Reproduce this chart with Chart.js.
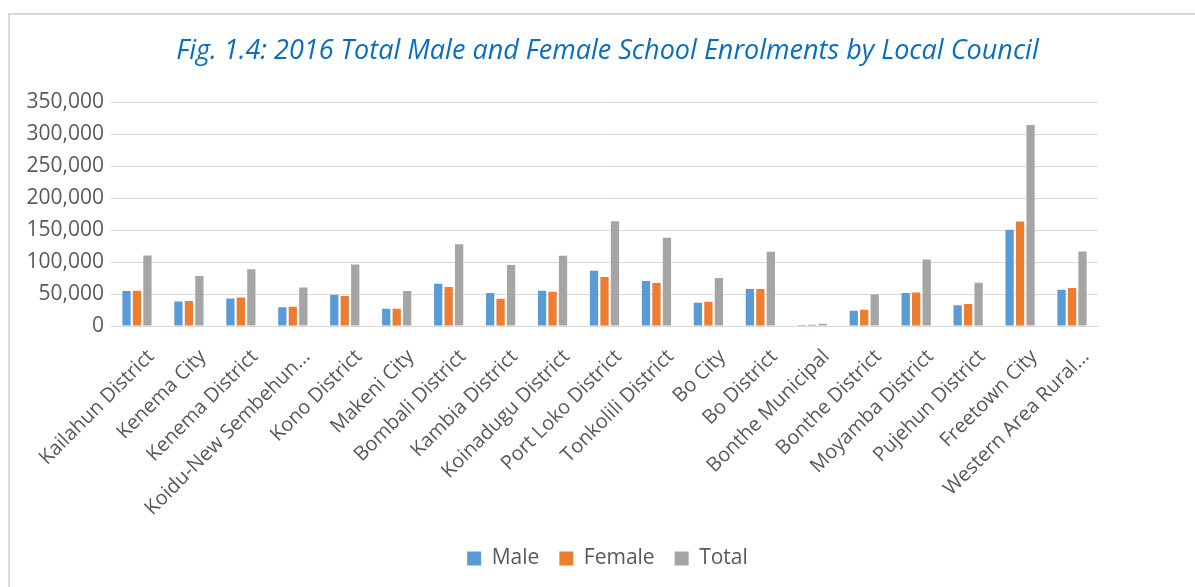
<!DOCTYPE html>
<html>
<head>
<meta charset="utf-8">
<script src="https://cdn.jsdelivr.net/npm/chart.js@4.4.0/dist/chart.umd.min.js"></script>
<style>
  html, body { margin: 0; padding: 0; background: #fff; }
  #frame { position: absolute; left: 8px; top: 13px; width: 1300px; height: 700px;
           border-left: 2px solid #d9d9d9; border-top: 2px solid #d9d9d9; }
  #wrap { position: absolute; left: 0; top: 0; width: 1195px; height: 587px; }
</style>
</head>
<body>
<div id="frame"></div>
<div id="wrap"><canvas id="myChart" width="1195" height="587"></canvas></div>
<script>
// Conselhos locais (eixo x)
const councils = [
    'Kailahun District', 'Kenema City', 'Kenema District', 'Koidu-New Sembehun...',
    'Kono District', 'Makeni City', 'Bombali District', 'Kambia District',
    'Koinadugu District', 'Port Loko District', 'Tonkolili District', 'Bo City',
    'Bo District', 'Bonthe Municipal', 'Bonthe District', 'Moyamba District',
    'Pujehun District', 'Freetown City', 'Western Area Rural...'
];

// Matrículas
const male   = [54700, 38500, 43200, 29200, 49000, 27100, 66100, 51600, 55200, 86500,
                70300, 36500, 57800, 1600, 24000, 51600, 32300, 150500, 56800];
const female = [55300, 39000, 44800, 30200, 46900, 27100, 60900, 42700, 53600, 76600,
                67200, 38000, 57800, 2100, 25500, 52600, 34400, 163500, 59400];
const total  = [110400, 78100, 89000, 60400, 96400, 54700, 128100, 95300, 109900, 164100,
                138000, 75000, 116100, 3700, 49500, 104200, 67700, 314600, 116700];

const yTicks = [0, 50000, 100000, 150000, 200000, 250000, 300000, 350000];

const fontFam = "'Open Sans', sans-serif";
const grey = '#595959';

const ctx = document.getElementById('myChart').getContext('2d');
const myChart = new Chart(ctx, {
    type: 'bar',
    data: {
        labels: councils,
        datasets: [
            { label: 'Male', data: male, backgroundColor: '#5B9BD5' },
            { label: 'Female', data: female, backgroundColor: '#ED7D31' },
            { label: 'Total', data: total, backgroundColor: '#A5A5A5' }
        ]
    },
    options: {
        responsive: false,
        animation: false,
        datasets: { bar: { categoryPercentage: 0.605, barPercentage: 0.79 } },
        layout: { padding: { top: 35, left: 20, right: 0, bottom: 8 } },
        plugins: {
            title: {
                display: true,
                text: 'Fig. 1.4: 2016 Total Male and Female School Enrolments by Local Council',
                color: '#0A6EBD',
                font: { family: fontFam, size: 27, style: 'italic', weight: 'normal', lineHeight: 1.2 },
                padding: { top: 0, bottom: 35 }
            },
            legend: {
                position: 'bottom',
                labels: {
                    color: grey,
                    font: { family: fontFam, size: 21 },
                    boxWidth: 14,
                    boxHeight: 14,
                    padding: 20
                }
            },
            tooltip: { enabled: false }
        },
        scales: {
            x: {
                grid: { display: false, drawTicks: false },
                border: { display: true, color: '#d9d9d9', width: 1 },
                ticks: {
                    color: grey,
                    font: { family: fontFam, size: 20 },
                    maxRotation: 45,
                    minRotation: 45,
                    autoSkip: false,
                    padding: 19,
                    labelOffset: 14
                },
                afterFit: s => { s.height = 202; }
            },
            y: {
                min: 0,
                max: 350000,
                afterBuildTicks: s => { s.ticks = yTicks.map(v => ({ value: v })); },
                grid: { color: '#d9d9d9', lineWidth: 1, drawTicks: false },
                border: { display: false },
                ticks: {
                    color: grey,
                    font: { family: fontFam, size: 21 },
                    padding: 7,
                    callback: v => v.toLocaleString('en-US')
                },
                afterFit: s => { s.width = 91; }
            },
            // eixo vazio à direita, só para reservar espaço
            yRight: {
                position: 'right',
                grid: { display: false, drawTicks: false },
                border: { display: false },
                ticks: { display: false },
                afterFit: s => { s.width = 97; }
            }
        }
    }
});
</script>
</body>
</html>
